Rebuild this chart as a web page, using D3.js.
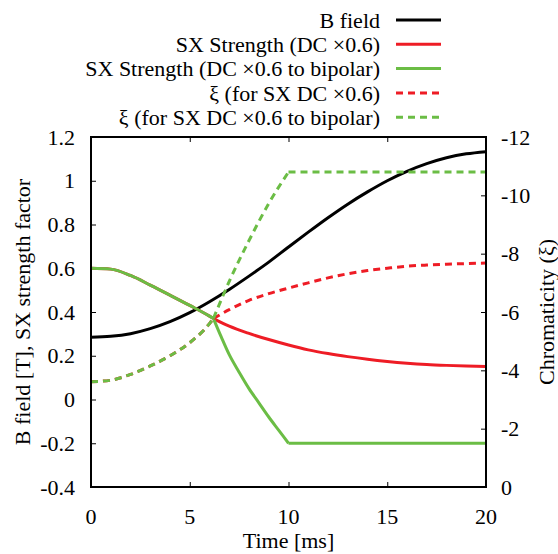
<!DOCTYPE html>
<html>
<head>
<meta charset="utf-8">
<script src="https://cdn.jsdelivr.net/npm/d3@7"></script>
</head>
<body style="margin:0">
<div id="chart"></div>
<script>
// Time axis samples [ms]
const timeB = [0, 1, 2, 3, 4, 5, 6, 7, 8, 9, 10, 11, 12, 13, 14, 15, 16, 17, 18, 19, 20];
const bField = [0.285, 0.289, 0.301, 0.324, 0.356, 0.397, 0.447, 0.503, 0.564, 0.628, 0.697,
    0.765, 0.831, 0.893, 0.949, 1.000, 1.043, 1.078, 1.105, 1.123, 1.133];

// SX strength, DC x0.6
const timeRed = [0, 1, 2, 3, 4, 5, 6, 6.2, 7, 8, 9, 10, 11, 12, 13, 14, 15, 16, 17, 18, 19, 20];
const sxRed = [0.600, 0.596, 0.567, 0.523, 0.477, 0.430, 0.381, 0.370, 0.335, 0.302, 0.274, 0.249,
    0.227, 0.210, 0.196, 0.184, 0.174, 0.166, 0.160, 0.156, 0.153, 0.151];
const xiRed = [-3.61, -3.66, -3.86, -4.15, -4.50, -4.95, -5.60, -5.78, -6.08, -6.40, -6.63, -6.82,
    -7.00, -7.17, -7.31, -7.42, -7.50, -7.57, -7.61, -7.64, -7.66, -7.68];

// SX strength, DC x0.6 to bipolar
const timeGreen = [0, 1, 2, 3, 4, 5, 6, 6.2, 6.6, 7, 7.5, 8, 8.5, 9, 9.5, 10, 20];
const sxGreen = [0.600, 0.596, 0.567, 0.523, 0.477, 0.430, 0.381, 0.370, 0.285, 0.205, 0.125,
    0.050, -0.015, -0.080, -0.140, -0.200, -0.200];
const timeGreenXi = [0, 1, 2, 3, 4, 5, 6, 6.2, 7, 8, 9, 10, 20];
const xiGreen = [-3.61, -3.66, -3.86, -4.15, -4.50, -4.95, -5.60, -5.78, -7.05, -8.45, -9.72,
    -10.80, -10.80];

// kink times where a series changes regime
const kinksRed = [6.2];
const kinksGreen = [6.2, 10];

const xTicks = [0, 5, 10, 15, 20];
const yTicks = [-0.4, -0.2, 0, 0.2, 0.4, 0.6, 0.8, 1, 1.2];
const y2Ticks = [0, -2, -4, -6, -8, -10, -12];

const legendLabels = [
    'B field',
    'SX Strength (DC \u00d70.6)',
    'SX Strength (DC \u00d70.6 to bipolar)',
    '\u03be (for SX DC \u00d70.6)',
    '\u03be (for SX DC \u00d70.6 to bipolar)'
];

const RED = '#ee1c25';
const GREEN = '#6bbd45';

const W = 558, H = 554;
const margin = { top: 137, right: 72, bottom: 67, left: 91 };
const width = W - margin.left - margin.right;
const height = H - margin.top - margin.bottom;

const svg = d3.select('#chart').append('svg')
    .attr('width', W)
    .attr('height', H)
    .attr('font-family', 'Times New Roman');

const g = svg.append('g')
    .attr('transform', `translate(${margin.left},${margin.top})`);

const x = d3.scaleLinear().domain([0, 20]).range([0, width]);
const y = d3.scaleLinear().domain([-0.4, 1.2]).range([height, 0]);
const y2 = d3.scaleLinear().domain([0, -12]).range([height, 0]);

const fmt = d => String(+d.toFixed(1));
const fontSize = '22px';
const serif = 'Times New Roman';

// Axes (ticks inward), tick text is added by hand below
g.append('g')
    .attr('transform', `translate(0,${height})`)
    .call(d3.axisBottom(x).tickValues(xTicks).tickSize(-5).tickFormat(''));
g.append('g')
    .call(d3.axisTop(x).tickValues(xTicks).tickSize(-5).tickFormat(''));
g.append('g')
    .call(d3.axisLeft(y).tickValues(yTicks).tickSize(-5).tickFormat(''));
g.append('g')
    .attr('transform', `translate(${width},0)`)
    .call(d3.axisRight(y2).tickValues(y2Ticks).tickSize(-5).tickFormat(''));

g.selectAll('.domain').remove();
g.selectAll('.tick line').attr('stroke', '#000').attr('stroke-width', 1);
g.selectAll('.tick text').remove();

function label(parent, txt) {
    return parent.append('text')
        .attr('font-family', serif)
        .style('font-family', serif)
        .style('font-size', fontSize)
        .text(txt);
}

xTicks.forEach(t => {
    label(g, fmt(t)).attr('x', x(t)).attr('y', height + 37).attr('text-anchor', 'middle');
});
yTicks.forEach(t => {
    label(g, fmt(t)).attr('x', -16).attr('y', y(t)).attr('dy', '0.35em').attr('text-anchor', 'end');
});
y2Ticks.forEach(t => {
    label(g, fmt(t)).attr('x', width + 15).attr('y', y2(t)).attr('dy', '0.35em').attr('text-anchor', 'start');
});

// Series lines
function drawSeries(xs, ys, scaleY, kinks, color, dash) {
    const pts = xs.map((t, i) => ({ t: t, v: ys[i] }));
    // split into smooth pieces at kink times
    const pieces = [];
    let cur = [];
    pts.forEach(p => {
        cur.push(p);
        if (kinks.includes(p.t)) {
            pieces.push(cur);
            cur = [p];
        }
    });
    pieces.push(cur);

    const line = d3.line()
        .x(d => x(d.t))
        .y(d => scaleY(d.v))
        .curve(d3.curveMonotoneX);

    const path = pieces.map(pc => line(pc)).join('');
    const p = g.append('path')
        .attr('d', path)
        .attr('fill', 'none')
        .attr('stroke', color)
        .attr('stroke-width', 3)
        .attr('stroke-linejoin', 'round');
    if (dash) p.attr('stroke-dasharray', dash);
}

drawSeries(timeB, bField, y, [], '#000', null);
drawSeries(timeRed, sxRed, y, kinksRed, RED, null);
drawSeries(timeGreen, sxGreen, y, kinksGreen, GREEN, null);
drawSeries(timeRed, xiRed, y2, kinksRed, RED, '7,5');
drawSeries(timeGreenXi, xiGreen, y2, kinksGreen, GREEN, '7,5');

// Frame
g.append('rect')
    .attr('width', width)
    .attr('height', height)
    .attr('fill', 'none')
    .attr('stroke', '#000')
    .attr('stroke-width', 2);

// Axis labels
label(g, 'Time [ms]')
    .attr('x', width / 2)
    .attr('y', height + 61)
    .attr('text-anchor', 'middle');

label(g, 'B field [T], SX strength factor')
    .attr('transform', `translate(${-margin.left + 22},${height / 2}) rotate(-90)`)
    .attr('text-anchor', 'middle')
    .attr('dy', '0.35em');

label(g, 'Chromaticity (\u03be)')
    .attr('transform', `translate(${width + 60},${height / 2}) rotate(-90)`)
    .attr('text-anchor', 'middle')
    .attr('dy', '0.35em');

// Legend
const legendColors = ['#000', RED, GREEN, RED, GREEN];
const legendDash = [null, null, null, '7,5', '7,5'];
legendLabels.forEach((lab, i) => {
    const ly = 20 + i * 24.3;
    label(svg, lab)
        .attr('x', 380)
        .attr('y', ly)
        .attr('dy', '0.35em')
        .attr('text-anchor', 'end');
    const l = svg.append('line')
        .attr('x1', 396).attr('x2', 441)
        .attr('y1', ly).attr('y2', ly)
        .attr('stroke', legendColors[i])
        .attr('stroke-width', 3);
    if (legendDash[i]) l.attr('stroke-dasharray', legendDash[i]);
});
</script>
</body>
</html>
